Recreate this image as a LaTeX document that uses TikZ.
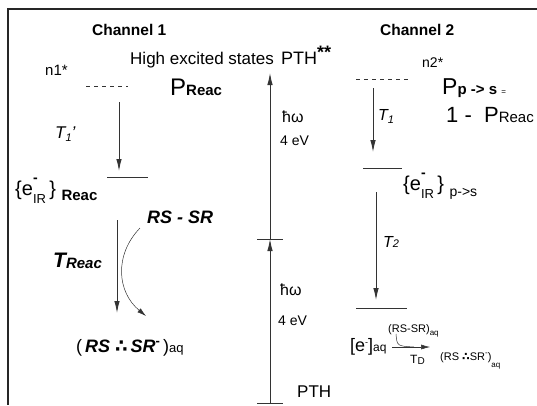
\documentclass[tikz,border=0pt]{standalone}
\usepackage{fontspec}
\setmainfont{Liberation Sans}
\newfontfamily\dotsfont{DejaVu Sans}
\usetikzlibrary{arrows.meta}

\newcommand{\fsz}[1]{\fontsize{#1}{#1}\selectfont}
\newcommand{\therefor}{{\dotsfont\bfseries ∴}}

\begin{document}
\begin{tikzpicture}[x=1pt, y=-1pt,
    txt/.style={inner sep=0pt, anchor=base west},
    decay/.style={-{Latex[length=12pt,width=5.5pt]}, line width=0.9pt, black!80},
    thindecay/.style={-{Latex[length=9pt,width=5pt]}, line width=0.5pt, black!80},
    level/.style={line width=0.8pt, black!80},
    virtual/.style={line width=0.7pt, black!80, dash pattern=on 4pt off 4pt}]

	\useasboundingbox (0,0) rectangle (537,405);

	% Frame
	\draw[line width=1.6pt, black!85] (537,9) -- (8,9) -- (8,405);

	% Axis
	\def\axis{270}
	\def\tick{13}

	% Titles
	\node[txt] (ch1) at (92,35) {\fsz{15.5}\bfseries Channel 1};
	\node[txt] (ch2) at (380,35) {\fsz{15.5}\bfseries Channel 2};
	\node[txt] (high) at (130,64) {\fsz{17}High excited states};
	\node[txt] (pthtop) at (281,64) {\fsz{18}PTH\raisebox{6pt}{\bfseries **}};

	% Photon excitation
	\coordinate (gnd) at (\axis,403);
	\coordinate (mid) at (\axis,239);
	\coordinate (top) at (\axis,73);
	\draw[level] (\axis - \tick,403) -- (\axis + \tick,403);
	\draw[level] (\axis - \tick,239) -- (\axis + \tick,239);
	\draw[decay] (gnd) -- (mid);
	\draw[decay] (mid) -- (top);
	\node[txt] (hw1) at (282,122) {\fsz{16}ħω};
	\node[txt] (ev1) at (280,145) {\fsz{14}4 eV};
	\node[txt] (hw2) at (280,295) {\fsz{16}ħω};
	\node[txt] (ev2) at (278,325) {\fsz{14}4 eV};
	\node[txt] (pth) at (297,397) {\fsz{17}PTH};

	% Channel 1
	\node[txt] (n1) at (45,75) {\fsz{15}n1*};
	\draw[virtual] (86,86) -- (128,86);
	\node[txt] (preac) at (170,95) {\fsz{24}P{\fsz{15}\bfseries Reac}};
	\coordinate (n1a) at (119,102);
	\coordinate (e1a) at (119,171);
	\draw[decay] (n1a) -- (e1a);
	\node[txt] (t1p) at (55,138) {\fsz{17}\itshape T\raisebox{-3pt}{\fsz{11}1}’};
	\draw[level] (107,177) -- (148,177);
	\node[txt] (eir1) at (15,195) {\fsz{20}\{e\rlap{\raisebox{13pt}{\fsz{14}\bfseries -}}\raisebox{-8pt}{\fsz{13}IR}\,\}\ {\fsz{15}\bfseries\raisebox{-5pt}{Reac}}};
	\node[txt] (rssr) at (147,223) {\fsz{18}\bfseries\itshape RS - SR};
	\node[txt] (treac) at (53,267) {\bfseries\itshape\fsz{21}T\raisebox{-1pt}{\fsz{15}Reac}};
	\coordinate (e1b) at (117,220);
	\coordinate (p1) at (117,313);
	\draw[decay] (e1b) -- (p1);
	\draw[thindecay] (140,228) .. controls (114,255) and (117,292) .. (146,316);
	\node[txt] (prod1) at (76,352) {\fsz{18}(\,{\bfseries\itshape RS} \therefor\,{\bfseries\itshape SR}\raisebox{7pt}{\fsz{13}\bfseries -}\,)\fsz{13}aq};

	% Channel 2
	\node[txt] (n2) at (422,67) {\fsz{14}n2*};
	\draw[virtual] (356,79) -- (410,79);
	\node[txt] (pps) at (442,94) {\fsz{23}P{\fsz{15}\bfseries p -> s \fsz{8}\mdseries =}};
	\node[txt] (onemp) at (446,122) {\fsz{22}1 -\ \ P{\fsz{15}Reac}};
	\coordinate (n2a) at (373,88);
	\coordinate (e2a) at (373,152);
	\draw[decay] (n2a) -- (e2a);
	\node[txt] (t1) at (378,120) {\fsz{16}\itshape T\raisebox{-3pt}{\fsz{11}1}};
	\draw[level] (363,168) -- (402,168);
	\node[txt] (eir2) at (403,190) {\fsz{20}\{e\rlap{\raisebox{13pt}{\fsz{14}\bfseries -}}\raisebox{-8pt}{\fsz{13}IR}\,\}\ {\fsz{14}\raisebox{-6pt}{p->s}}};
	\coordinate (e2b) at (376,192);
	\coordinate (aq) at (376,300);
	\draw[decay] (e2b) -- (aq);
	\node[txt] (t2) at (383,247) {\fsz{16}\itshape T{\fsz{11}2}};
	\draw[level] (356,308) -- (407,308);
	\node[txt] (eaq) at (350,351) {\fsz{18}[e\raisebox{6pt}{\fsz{9}-}]{\fsz{12}aq}};
	\node[txt] (rssraq) at (388,332) {\fsz{11}(RS-SR)\raisebox{-3pt}{\fsz{8}aq}};
	\coordinate (scav) at (392,347);
	\coordinate (scavend) at (430,347);
	\draw[thindecay] (scav) -- (scavend);
	\draw[line width=0.5pt, black!80] (396,334) .. controls (397,346) .. (414,347);
	\node[txt] (td) at (410,363) {\fsz{12}T\raisebox{-1pt}{\fsz{10}D}};
	\node[txt] (prod2) at (440,360) {\fsz{11}(RS \therefor SR\raisebox{5pt}{\fsz{8}-})\raisebox{-7pt}{\fsz{8}aq}};

\end{tikzpicture}
\end{document}
